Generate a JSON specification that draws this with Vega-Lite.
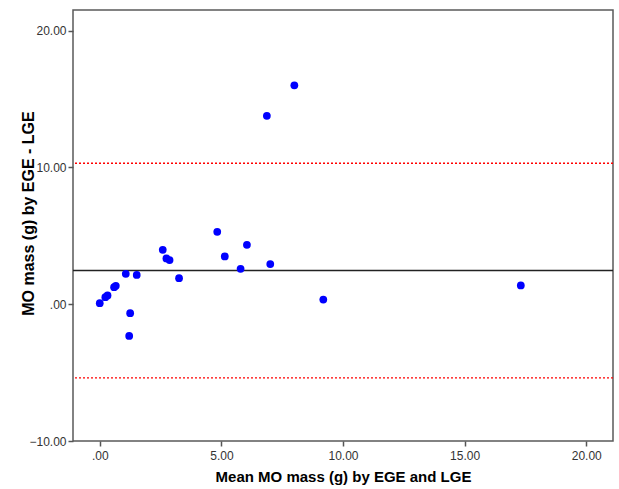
{
  "$schema": "https://vega.github.io/schema/vega-lite/v6.json",
  "autosize": "none",
  "width": 540,
  "height": 431,
  "padding": {"left": 73, "top": 10, "right": 6, "bottom": 48},
  "background": "white",
  "config": {
    "view": {"stroke": "#5a5a5a", "strokeWidth": 1.5},
    "font": "Liberation Sans",
    "axis": {
      "grid": false,
      "domain": false,
      "tickColor": "#555555",
      "tickSize": 5,
      "tickWidth": 1.5,
      "labelFont": "Liberation Sans",
      "labelFontSize": 12,
      "labelColor": "#333333",
      "titleFont": "Liberation Sans",
      "titleFontSize": 15,
      "titleFontWeight": "bold",
      "titleColor": "#000000"
    }
  },
  "layer": [
    {
      "data": {"values": [
        {"line": "upper", "value": 10.3},
        {"line": "lower", "value": -5.38}
      ]},
      "mark": {"type": "rule", "color": "#ff0000", "strokeWidth": 1.3, "strokeDash": [2, 2]},
      "encoding": {
        "y": {"field": "value", "type": "quantitative"}
      }
    },
    {
      "data": {"values": [
        {"line": "mean", "value": 2.46}
      ]},
      "mark": {"type": "rule", "color": "#222222", "strokeWidth": 1.4},
      "encoding": {
        "y": {"field": "value", "type": "quantitative"}
      }
    },
    {
      "data": {"values": [
        {"mean": 0.0, "diff": 0.07},
        {"mean": 0.23, "diff": 0.51},
        {"mean": 0.32, "diff": 0.64},
        {"mean": 0.59, "diff": 1.24},
        {"mean": 0.66, "diff": 1.34},
        {"mean": 1.07, "diff": 2.22},
        {"mean": 1.52, "diff": 2.14},
        {"mean": 1.25, "diff": -0.66},
        {"mean": 1.21, "diff": -2.32},
        {"mean": 2.59, "diff": 3.97},
        {"mean": 2.74, "diff": 3.34},
        {"mean": 2.87, "diff": 3.22},
        {"mean": 3.26, "diff": 1.90},
        {"mean": 4.83, "diff": 5.29},
        {"mean": 5.14, "diff": 3.49},
        {"mean": 5.79, "diff": 2.58},
        {"mean": 6.05, "diff": 4.34},
        {"mean": 7.01, "diff": 2.93},
        {"mean": 9.19, "diff": 0.34},
        {"mean": 17.31, "diff": 1.37},
        {"mean": 6.87, "diff": 13.77},
        {"mean": 8.0, "diff": 16.0}
      ]},
      "mark": {"type": "point", "filled": true, "shape": "circle", "size": 60, "color": "#0000ff", "opacity": 1},
      "encoding": {
        "x": {
          "field": "mean", "type": "quantitative",
          "title": "Mean MO mass (g) by EGE and LGE",
          "scale": {"domain": [-1.1, 21.1], "nice": false, "zero": false},
          "axis": {
            "values": [0, 5, 10, 15, 20],
            "labelExpr": "datum.value == 0 ? '.00' : format(datum.value, '.2f')",
            "labelPadding": 4,
            "titlePadding": 8
          }
        },
        "y": {
          "field": "diff", "type": "quantitative",
          "title": "MO mass (g) by EGE - LGE",
          "scale": {"domain": [-10, 21.5], "nice": false, "zero": false},
          "axis": {
            "values": [-10, 0, 10, 20],
            "labelExpr": "datum.value == 0 ? '.00' : format(datum.value, '.2f')",
            "labelPadding": 2,
            "titleX": -45,
            "titleY": 203,
            "titleFontSize": 16,
            "titleBaseline": "middle"
          }
        }
      }
    }
  ]
}
